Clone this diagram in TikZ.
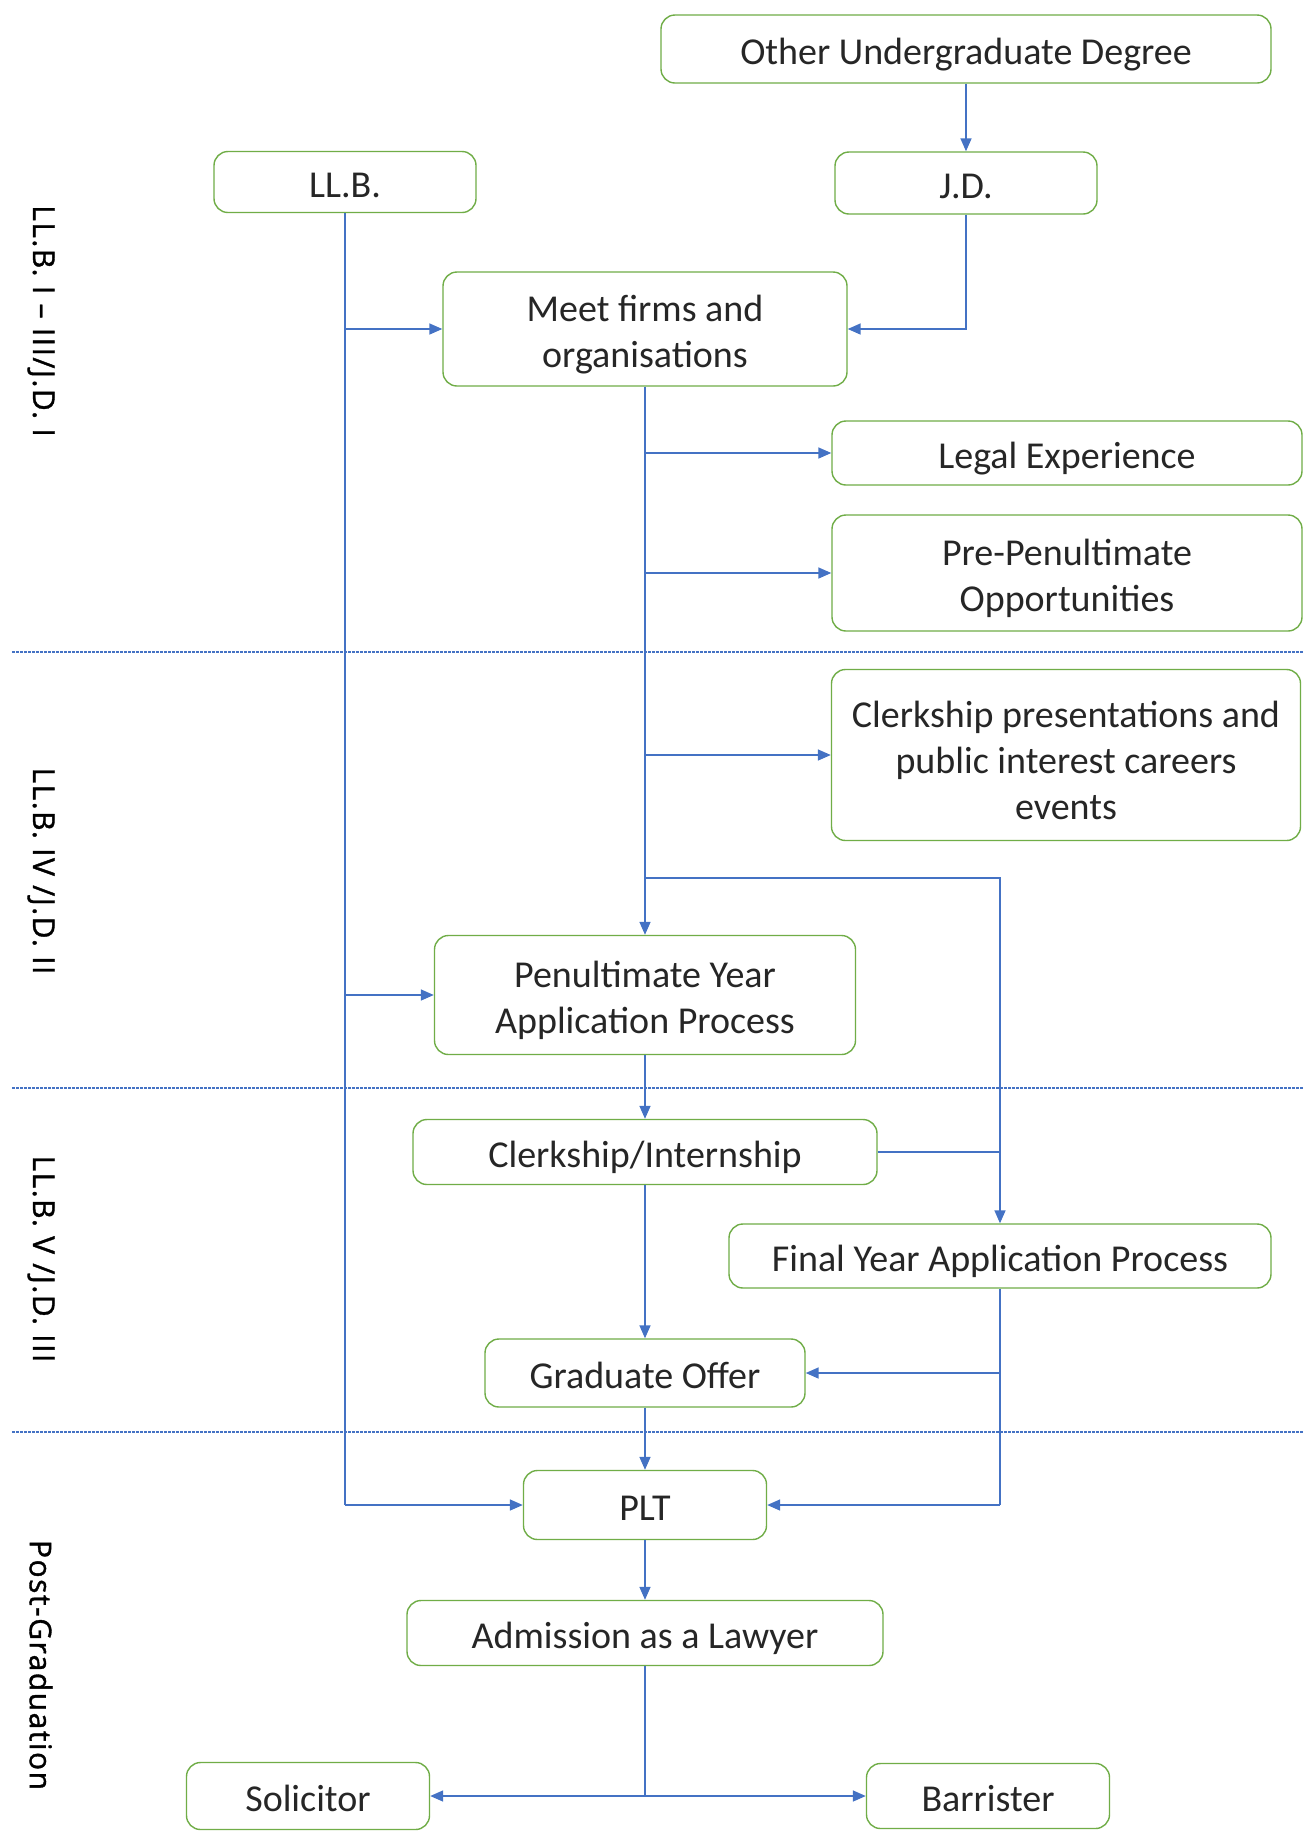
\documentclass[tikz,border=0pt]{standalone}
\usepackage{fontspec}
\setmainfont{Carlito}
\newfontfamily\labelfont[LetterSpace=5,FakeBold=1.2]{Open Sans}
\usetikzlibrary{arrows.meta}
\definecolor{lnblue}{HTML}{4472C4}
\definecolor{bxgreen}{HTML}{70AD47}
\definecolor{txtgray}{HTML}{262626}
\newcommand{\topstrut}{\rule[-7.6pt]{0pt}{45.6pt}}
\newcommand{\topstrutm}{\rule[-7.6pt]{0pt}{92.6pt}}
\newcommand{\topstrutt}{\rule[-7.6pt]{0pt}{144.6pt}}
\newcommand{\botstrut}{\rule[-7.6pt]{0pt}{7.6pt}}
\begin{document}
\begin{tikzpicture}[x=1pt,y=-1pt,
  box/.style={draw=bxgreen, line width=1.4pt, rounded corners=14pt, fill=white, align=center, text=txtgray, font=\fontsize{38}{46}\selectfont, inner sep=0pt, execute at begin node=\topstrut, execute at end node=\botstrut},
  mbox/.style={box, execute at begin node=\topstrutm},
  tbox/.style={box, execute at begin node=\topstrutt},
  conn/.style={draw=lnblue, line width=1.6pt},
  arr/.style={conn, -{Triangle[length=13pt,width=11pt]}},
  sepline/.style={draw=lnblue, line width=1.3pt, dash pattern=on 2.5pt off 1.5pt},
  lab/.style={rotate=-90, font=\labelfont\fontsize{30}{30}\selectfont, text=black}
]
\useasboundingbox (0,0) rectangle (1303,1832);
\fill[white] (0,0) rectangle (1303,1832);

% separators
\coordinate (s1a) at (12,652); \coordinate (s1b) at (1303,652);
\coordinate (s2a) at (12,1088); \coordinate (s2b) at (1303,1088);
\coordinate (s3a) at (12,1432); \coordinate (s3b) at (1303,1432);
\draw[sepline] (s1a) -- (s1b);
\draw[sepline] (s2a) -- (s2b);
\draw[sepline] (s3a) -- (s3b);

% phase labels
\node[lab] (l1) at (41,321) {LL.B. I – III/J.D. I};
\node[lab] (l2) at (41,871) {LL.B. IV /J.D. II};
\node[lab] (l3) at (41,1259) {LL.B. V /J.D. III};
\node[lab] (l4) at (41,1665) {Post-Graduation};

% boxes
\node[box, minimum width=610pt, minimum height=68pt] (oug) at (966,49) {Other Undergraduate Degree};
\node[box, minimum width=262pt, minimum height=61pt] (llb) at (345,182) {LL.B.};
\node[box, minimum width=262pt, minimum height=62pt] (jd) at (966,183) {J.D.};
\node[mbox, minimum width=404pt, minimum height=114pt] (meet) at (645,329) {Meet firms and\\organisations};
\node[box, minimum width=470pt, minimum height=64pt] (legal) at (1067,453) {Legal Experience};
\node[mbox, minimum width=470pt, minimum height=116pt] (prepen) at (1067,573) {Pre-Penultimate\\Opportunities};
\node[tbox, minimum width=469pt, minimum height=171pt] (cpres) at (1066,755) {Clerkship presentations and\\public interest careers\\events};
\node[mbox, minimum width=421pt, minimum height=119pt] (penult) at (645,995) {Penultimate Year\\Application Process};
\node[box, minimum width=464pt, minimum height=65pt] (clerk) at (645,1152) {Clerkship/Internship};
\node[box, minimum width=542pt, minimum height=64pt] (final) at (1000,1256) {Final Year Application Process};
\node[box, minimum width=320pt, minimum height=68pt] (grad) at (645,1373) {Graduate Offer};
\node[box, minimum width=243pt, minimum height=69pt] (plt) at (645,1505) {PLT};
\node[box, minimum width=476pt, minimum height=65pt] (adm) at (645,1633) {Admission as a Lawyer};
\node[box, minimum width=243pt, minimum height=67pt] (sol) at (308,1796) {Solicitor};
\node[box, minimum width=243pt, minimum height=65pt] (bar) at (988,1796) {Barrister};

% helper coordinates
\coordinate (llbend) at (345,1505);
\coordinate (split) at (645,878);
\coordinate (splitr) at (1000,878);
\coordinate (finend) at (1000,1505);
\coordinate (admend) at (645,1796);

% connectors
\draw[arr] (oug.south) -- (jd.north);
\draw[arr] (jd.south) |- (meet.east);
\draw[conn] (llb.south) -- (llbend);
\draw[arr] (llbend) -- (plt.west);
\draw[arr] (llb.south |- meet.west) -- (meet.west);
\draw[arr] (llb.south |- penult.west) -- (penult.west);
\draw[arr] (meet.south) -- (penult.north);
\draw[arr] (meet.south |- legal.west) -- (legal.west);
\draw[arr] (meet.south |- prepen.west) -- (prepen.west);
\draw[arr] (meet.south |- cpres.west) -- (cpres.west);
\draw[arr] (split) -- (splitr) -- (final.north);
\draw[conn] (clerk.east) -- (clerk.east -| splitr);
\draw[arr] (penult.south) -- (clerk.north);
\draw[arr] (clerk.south) -- (grad.north);
\draw[conn] (final.south) -- (finend);
\draw[arr] (finend) -- (plt.east);
\draw[arr] (final.south |- grad.east) -- (grad.east);
\draw[arr] (grad.south) -- (plt.north);
\draw[arr] (plt.south) -- (adm.north);
\draw[conn] (adm.south) -- (admend);
\draw[arr] (admend) -- (sol.east);
\draw[arr] (admend) -- (bar.west);
\end{tikzpicture}
\end{document}
